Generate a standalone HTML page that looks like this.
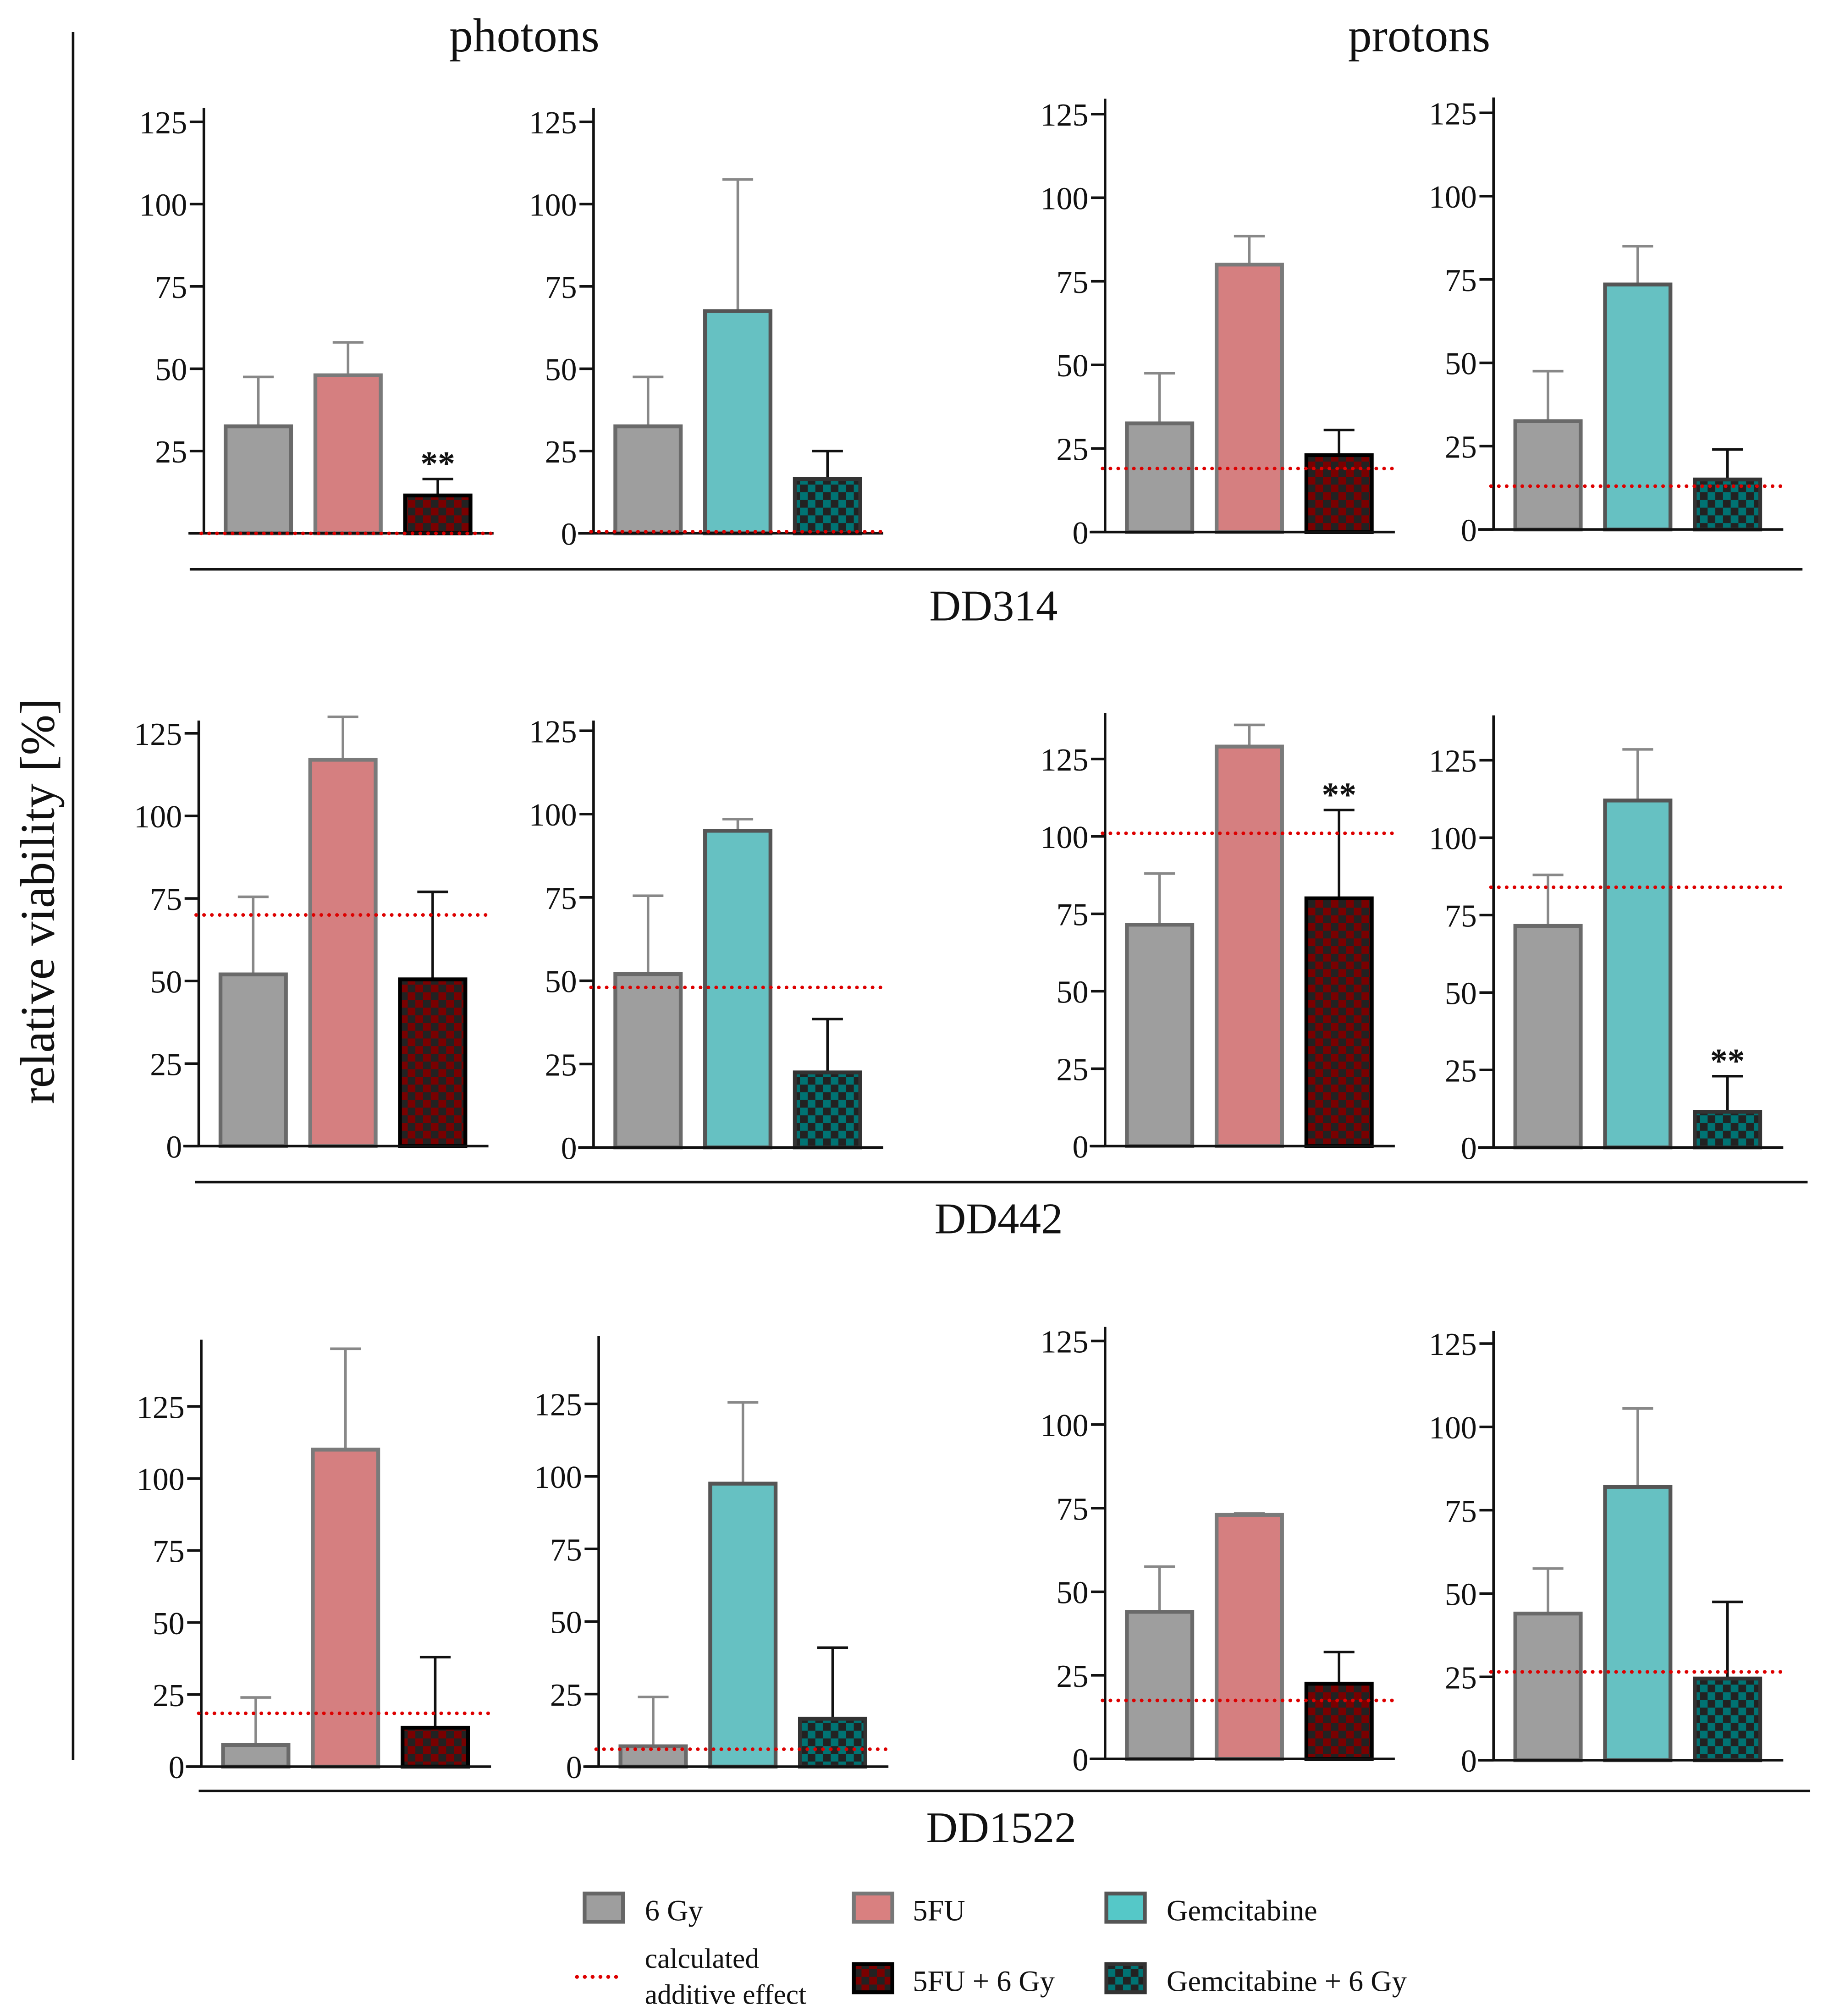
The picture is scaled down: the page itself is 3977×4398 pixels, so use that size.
<!DOCTYPE html>
<html><head><meta charset="utf-8"><style>
html,body{margin:0;padding:0;background:#fff}
svg{display:block}
text{font-family:"Liberation Serif",serif;fill:#111}
</style></head><body>
<svg id="chart" width="3977" height="4398" viewBox="0 0 1422 1572.5" xmlns="http://www.w3.org/2000/svg">
<defs>
<pattern id="chkRed" width="12" height="12" patternUnits="userSpaceOnUse"><rect width="12" height="12" fill="#222"/><rect width="6" height="6" fill="#7a0000"/><rect x="6" y="6" width="6" height="6" fill="#7a0000"/></pattern>
<pattern id="chkTeal" width="12" height="12" patternUnits="userSpaceOnUse"><rect width="12" height="12" fill="#222"/><rect width="6" height="6" fill="#007373"/><rect x="6" y="6" width="6" height="6" fill="#007373"/></pattern>
</defs>
<g id="static">
<text x="409" y="40" font-size="37" text-anchor="middle">photons</text>
<text x="1107" y="40" font-size="37" text-anchor="middle">protons</text>
<line x1="57" y1="25" x2="57" y2="1373" stroke="#111" stroke-width="2"/>
<text transform="translate(42,703) rotate(-90)" font-size="38" text-anchor="middle">relative viability [%]</text>
<line x1="148" y1="444" x2="1406" y2="444" stroke="#111" stroke-width="2"/>
<text x="775" y="484" font-size="34" text-anchor="middle">DD314</text>
<line x1="152" y1="922" x2="1410" y2="922" stroke="#111" stroke-width="2"/>
<text x="779" y="962" font-size="34" text-anchor="middle">DD442</text>
<line x1="155" y1="1397" x2="1412" y2="1397" stroke="#111" stroke-width="2"/>
<text x="781" y="1437" font-size="34" text-anchor="middle">DD1522</text>
<g>
<rect x="456" y="1477" width="30" height="22" fill="#9e9e9e" stroke="#666" stroke-width="3"/>
<text x="503" y="1498" font-size="23">6 Gy</text>
<rect x="666" y="1477" width="30" height="22" fill="#d98080" stroke="#777" stroke-width="3"/>
<text x="712" y="1498" font-size="23">5FU</text>
<rect x="863" y="1477" width="30" height="22" fill="#55c8c8" stroke="#555" stroke-width="3"/>
<text x="910" y="1498" font-size="23">Gemcitabine</text>
<line x1="450" y1="1542" x2="482" y2="1542" stroke="#d00" stroke-width="3" stroke-dasharray="0.1 6" stroke-linecap="round"/>
<text x="503" y="1535" font-size="22">calculated</text>
<text x="503" y="1563" font-size="22">additive effect</text>
<rect x="666" y="1532" width="30" height="22" fill="url(#chkRed)" stroke="#000" stroke-width="3"/>
<text x="712" y="1553" font-size="23">5FU + 6 Gy</text>
<rect x="863" y="1532" width="30" height="22" fill="url(#chkTeal)" stroke="#333" stroke-width="3"/>
<text x="910" y="1553" font-size="23">Gemcitabine + 6 Gy</text>
</g>
</g>
<g id="panels"></g>
</svg>
<script>
const panelNames = ["dd314-photons-5fu","dd314-photons-gem","dd314-protons-5fu","dd314-protons-gem","dd442-photons-5fu","dd442-photons-gem","dd442-protons-5fu","dd442-protons-gem","dd1522-photons-5fu","dd1522-photons-gem","dd1522-protons-5fu","dd1522-protons-gem"];
const barCategories = ["6 Gy","drug","drug + 6 Gy"];
const drugKind = ["5fu","gem","5fu","gem","5fu","gem","5fu","gem","5fu","gem","5fu","gem"];
const meanValues = [
 [32.5,48,11.5],[32.5,67.5,16.5],[32.5,80,23],[32.5,73.5,15],
 [52,117,50.5],[52,95,22.5],[71.5,129,80],[71.5,112,11.5],
 [7.5,110,13.5],[7,97.5,16.5],[44,73,22.5],[44,82,24.5]];
const errorTops = [
 [47.5,58,16.5],[47.5,107.5,25],[47.5,88.5,30.5],[47.5,85,24],
 [75.5,130,77],[75.5,98.5,38.5],[88,136,108.5],[88,128.5,23],
 [24,145,38],[24,125.5,41],[57.5,73.5,32],[57.5,105.5,47.5]];
const additiveValues = [0,0.5,19,13,70,48,101,84,18.5,6,17.5,26.5];
const significance = ["**","","","","","","**","**","","","",""];
const tickValues = [0,25,50,75,100,125];

const layout = [
 {ax:159,y0:416,y125:95,top:84},{ax:463,y0:416,y125:95,top:84},{ax:862,y0:415,y125:89,top:77},{ax:1165,y0:413,y125:88,top:76},
 {ax:155,y0:894,y125:572,top:562},{ax:463,y0:895,y125:570,top:562},{ax:862,y0:894,y125:592,top:556},{ax:1165,y0:895,y125:593,top:558},
 {ax:157,y0:1378,y125:1097,top:1045},{ax:467,y0:1378,y125:1095,top:1042},{ax:862,y0:1372,y125:1046,top:1035},{ax:1165,y0:1373,y125:1048,top:1038}];
const barOffsets=[17,87,157], barW=51;

const NS="http://www.w3.org/2000/svg";
const root=document.getElementById('panels');
function mk(tag,attrs,parent){const e=document.createElementNS(NS,tag);for(const k in attrs)e.setAttribute(k,attrs[k]);parent.appendChild(e);return e;}

panelNames.forEach((name,i)=>{
  const L=layout[i];
  const ys=v=>L.y0+(L.y125-L.y0)*v/125;
  const g=mk('g',{},root);
  
  
  meanValues[i].forEach((v,j)=>{
    const x=L.ax+barOffsets[j];
    let fill,stroke,ec;
    if(j===0){fill='#9e9e9e';stroke='#6a6a6a';ec='#888';}
    else if(j===1){fill=drugKind[i]==='5fu'?'#d57f80':'#66c1c2';stroke=drugKind[i]==='5fu'?'#7a7a7a':'#555';ec='#888';}
    else{fill=drugKind[i]==='5fu'?'url(#chkRed)':'url(#chkTeal)';stroke=drugKind[i]==='5fu'?'#000':'#333';ec='#111';}
    const cx=x+barW/2;
    const el=mk('line',{x1:cx,x2:cx,y1:ys(errorTops[i][j]),y2:ys(v),stroke:ec,'stroke-width':2},g);
    
    
    const cap=mk('line',{x1:cx-12,x2:cx+12,y1:ys(errorTops[i][j]),y2:ys(errorTops[i][j]),stroke:ec,'stroke-width':2},g);
    
    
    const r=mk('rect',{x:x,y:ys(v),width:barW,height:L.y0-ys(v),fill:fill,stroke:stroke,'stroke-width':3},g);
    
    
  });
  const ya=mk('line',{x1:L.ax,x2:L.ax,y1:L.top,y2:L.y0,stroke:'#111','stroke-width':2},g);
  
  
  const xa=mk('line',{x1:L.ax-12,x2:L.ax+226,y1:L.y0,y2:L.y0,stroke:'#111','stroke-width':2},g);
  
  
  tickValues.forEach(t=>{
    const ty=ys(t);
    if(ty<L.top-2) return;
    const tk=mk('line',{x1:L.ax-11,x2:L.ax,y1:ty,y2:ty,stroke:'#111','stroke-width':2},g);
    
    
    const lb=mk('text',{x:L.ax-13,y:ty+9,'font-size':25,'text-anchor':'end'},g);
    lb.textContent=(t===0 && i===0)?'':String(t);
    
    
  });
  const ay=ys(additiveValues[i]);
  const ad=mk('line',{x1:L.ax-2,x2:L.ax+225,y1:ay,y2:ay,stroke:'#d00','stroke-width':2.8,'stroke-dasharray':'0.1 6','stroke-linecap':'round'},g);
  
  
  if(significance[i]){
    const cx=L.ax+barOffsets[2]+barW/2;
    const s=mk('text',{x:cx,y:ys(errorTops[i][2])-3,'font-size':27,'font-weight':'bold','text-anchor':'middle'},g);
    s.textContent=significance[i];
    
    
  }
});
</script>
</body></html>
